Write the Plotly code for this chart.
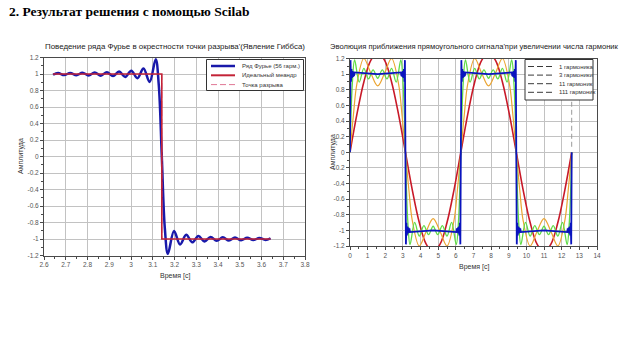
import math
import plotly.graph_objects as go

# ---------------- data ----------------
# Left panel: Fourier series (56 harmonics) near the jump at t = pi
gibbs_t = [2.6416, 2.6647, 2.6928, 2.7208, 2.7489, 2.7769, 2.8050, 2.8330, 2.8611, 2.8891,
           2.9172, 2.9452, 2.9733, 3.0013, 3.0294, 3.0574, 3.0855, 3.1135, 3.1276,
           3.1416,
           3.1556, 3.1697, 3.1977, 3.2258, 3.2538, 3.2819, 3.3099, 3.3380, 3.3660, 3.3941,
           3.4221, 3.4502, 3.4782, 3.5063, 3.5343, 3.5624, 3.5904, 3.6185, 3.6416]
gibbs_y = [0.991, 1.012, 0.987, 1.0135, 0.9855, 1.0156, 0.9831, 1.0184, 0.9797, 1.0225,
           0.9747, 1.0289, 0.9637, 1.0401, 0.9499, 1.0662, 0.9028, 1.179, 0.871,
           0.0,
           -0.871, -1.179, -0.9028, -1.0662, -0.9499, -1.0401, -0.9637, -1.0289, -0.9747, -1.0225,
           -0.9797, -1.0184, -0.9831, -1.0156, -0.9855, -1.0135, -0.987, -1.012, -0.991]
ideal_t = [2.6416, 3.1416, 3.1416, 3.6416]
ideal_y = [1, 1, -1, -1]
jump_t = [3.1416, 3.1416]
jump_y = [1, -1]

# Right panel: one positive half-period of each partial sum (0 .. pi),
# the other half-periods repeat it with alternating sign
h1_t = [0, 0.3927, 0.7854, 1.1781, 1.5708, 1.9635, 2.3562, 2.7489, 3.1416]
h1_y = [0, 0.487, 0.900, 1.176, 1.273, 1.176, 0.900, 0.487, 0]

h3_t = [0, 0.1963, 0.3927, 0.7854, 1.1781, 1.5708, 1.9635, 2.3562, 2.7489, 2.9452, 3.1416]
h3_y = [0, 0.484, 0.879, 1.200, 1.014, 0.849, 1.014, 1.200, 0.879, 0.484, 0]

h11_t = [0, 0.1309, 0.2618, 0.5236, 0.7854, 1.0472, 1.3090, 1.5708, 1.8326, 2.0944,
         2.3562, 2.6180, 2.8798, 3.0107, 3.1416]
h11_y = [0, 0.873, 1.181, 0.898, 1.074, 0.939, 1.055, 0.947, 1.055, 0.939,
         1.074, 0.898, 1.181, 0.873, 0]

h111_t = [0, 0.0281, 0.0561, 0.0842, 0.1122, 0.1403, 0.1683, 0.1964, 0.2244, 0.2525,
          1.5708, 2.8891, 2.9172, 2.9452, 2.9733, 3.0013, 3.0294, 3.0574, 3.0855, 3.1135, 3.1416]
h111_y = [0, 1.179, 0.903, 1.066, 0.950, 1.040, 0.964, 1.029, 0.975, 1.022,
          1.0, 1.022, 0.975, 1.029, 0.964, 1.040, 0.950, 1.066, 0.903, 1.179, 0]
half_periods = 4
end_mark_t = [12.566, 12.566]
end_mark_y = [0.07, 0.65]

# tick labels
left_xticks = [2.6, 2.7, 2.8, 2.9, 3.0, 3.1, 3.2, 3.3, 3.4, 3.5, 3.6, 3.7, 3.8]
left_xlabels = ["2.6", "2.7", "2.8", "2.9", "3", "3.1", "3.2", "3.3", "3.4", "3.5", "3.6", "3.7", "3.8"]
right_xticks = list(range(0, 15))
right_xlabels = [str(v) for v in right_xticks]
amp_ticks = [-1.2, -1.0, -0.8, -0.6, -0.4, -0.2, 0, 0.2, 0.4, 0.6, 0.8, 1.0, 1.2]
amp_labels = ["-1.2", "-1", "-0.8", "-0.6", "-0.4", "-0.2", "0", "0.2", "0.4", "0.6", "0.8", "1", "1.2"]

left_names = ["Ряд Фурье (56 гарм.)", "Идеальный меандр", "Точка разрыва"]
right_names = ["1 гармоника", "3 гармоники", "11 гармоник", "111 гармоник"]


def tile(ht, hy, n):
    xs, ys = [], []
    for k in range(n):
        s = 1 if k % 2 == 0 else -1
        for i, (t, y) in enumerate(zip(ht, hy)):
            if k > 0 and i == 0:
                continue
            xs.append(t + k * math.pi)
            ys.append(s * y)
    return xs, ys


W, H = 640, 360
def px(x): return x / W
def py(y): return 1 - y / H

FONT = "Liberation Sans, Arial, sans-serif"

fig = go.Figure()

# ---- left panel ----
fig.add_trace(go.Scatter(x=gibbs_t, y=gibbs_y, mode="lines", name=left_names[0],
                         line=dict(color="rgb(25,25,170)", width=2.5, shape="spline", smoothing=1),
                         xaxis="x", yaxis="y", showlegend=False))
fig.add_trace(go.Scatter(x=jump_t, y=jump_y, mode="lines", name=left_names[2],
                         line=dict(color="rgb(225,120,150)", width=1, dash="6px,3px"),
                         xaxis="x", yaxis="y", showlegend=False))
fig.add_trace(go.Scatter(x=ideal_t, y=ideal_y, mode="lines", name=left_names[1],
                         line=dict(color="rgb(195,35,55)", width=1.6),
                         xaxis="x", yaxis="y", showlegend=False))

# ---- right panel ----
right_specs = [
    (h1_t, h1_y, "rgb(200,25,40)", 1.6, "spline"),
    (h3_t, h3_y, "rgb(235,165,50)", 1.2, "spline"),
    (h11_t, h11_y, "rgb(95,220,70)", 1.3, "spline"),
    (h111_t, h111_y, "rgb(10,20,190)", 1.8, "linear"),
]
for (ht, hy, col, w, shp), nm in zip(right_specs, right_names):
    xs, ys = tile(ht, hy, half_periods)
    fig.add_trace(go.Scatter(x=xs, y=ys, mode="lines", name=nm,
                             line=dict(color=col, width=w, shape=shp, smoothing=1),
                             xaxis="x2", yaxis="y2", showlegend=False))
fig.add_trace(go.Scatter(x=end_mark_t, y=end_mark_y, mode="lines",
                         line=dict(color="#9a9a9a", width=1, dash="5px,3px"),
                         xaxis="x2", yaxis="y2", showlegend=False, hoverinfo="skip"))

axis_common = dict(showgrid=True, gridcolor="#c2c2c2", gridwidth=1, showline=True,
                   linecolor="#4a4a4a", linewidth=1, mirror=True, ticks="outside",
                   ticklen=3, tickcolor="#4a4a4a", zeroline=False, fixedrange=True,
                   automargin=False,
                   tickfont=dict(size=6.5, color="#555555", family=FONT), tickmode="array")

fig.update_layout(
    width=W, height=H, margin=dict(l=0, r=0, t=0, b=0, autoexpand=False),
    paper_bgcolor="white", plot_bgcolor="white", showlegend=False,
    xaxis=dict(axis_common, domain=[px(44), px(305)], anchor="y", range=[2.6, 3.8],
               tickvals=left_xticks, ticktext=left_xlabels,
               minor=dict(dtick=0.05, tick0=2.6, ticks="outside", ticklen=2, tickcolor="#4a4a4a", showgrid=False)),
    yaxis=dict(axis_common, domain=[py(255.5), py(57.5)], anchor="x", range=[-1.2, 1.2],
               tickvals=amp_ticks, ticktext=amp_labels,
               minor=dict(dtick=0.1, tick0=0, ticks="outside", ticklen=2, tickcolor="#4a4a4a", showgrid=False)),
    xaxis2=dict(axis_common, domain=[px(350), px(597)], anchor="y2", range=[0, 14],
                tickvals=right_xticks, ticktext=right_xlabels,
                minor=dict(dtick=0.5, tick0=0, ticks="outside", ticklen=2, tickcolor="#4a4a4a", showgrid=False)),
    yaxis2=dict(axis_common, domain=[py(246), py(58.5)], anchor="x2", range=[-1.2, 1.2],
                tickvals=amp_ticks, ticktext=amp_labels,
                minor=dict(dtick=0.1, tick0=0, ticks="outside", ticklen=2, tickcolor="#4a4a4a", showgrid=False)),
)

ann = []
def text(x, y, s, size, xanchor="center", angle=0, color="#222222", family=FONT):
    ann.append(dict(x=px(x), y=py(y), xref="paper", yref="paper", text=s, showarrow=False,
                    xanchor=xanchor, yanchor="middle", textangle=angle,
                    font=dict(size=size, color=color, family=family)))

text(7, 12, "<b>2. Результат решения с помощью Scilab</b>", 13.5, xanchor="left",
     color="#000000", family="Liberation Serif, Times New Roman, serif")
text(175, 47, "Поведение ряда Фурье в окрестности точки разрыва'(Явление Гиббса)", 7.9)
text(474, 47, "Эволюция приближения прямоугольного сигнала'при увеличении числа гармоник", 7.6)
text(175, 276, "Время [с]", 7, color="#333333")
text(474, 267, "Время [с]", 7, color="#333333")
text(21, 156, "Амплитуда", 7, angle=-90, color="#333333")
text(333, 152, "Амплитуда", 7, angle=-90, color="#333333")

shapes = []
def rect(x0, y0, x1, y1):
    shapes.append(dict(type="rect", xref="paper", yref="paper", x0=px(x0), x1=px(x1),
                       y0=py(y1), y1=py(y0), fillcolor="white", layer="above",
                       line=dict(color="#333333", width=1)))
def seg(x0, x1, y, color, width, dash="solid"):
    shapes.append(dict(type="line", xref="paper", yref="paper", x0=px(x0), x1=px(x1),
                       y0=py(y), y1=py(y), layer="above",
                       line=dict(color=color, width=width, dash=dash)))

# left legend
rect(206.5, 59.5, 303.5, 90.5)
left_leg = [("rgb(25,25,170)", 2.5, "solid"), ("rgb(195,35,55)", 2, "solid"),
            ("rgb(225,120,150)", 1, "6px,3px")]
for i, ((c, w, d), nm) in enumerate(zip(left_leg, left_names)):
    yy = 66 + i * 9.3
    seg(211, 235, yy, c, w, d)
    text(240, yy, nm, 6, xanchor="left", color="#333333")

# right legend
rect(525, 59.5, 593, 100)
for i, nm in enumerate(right_names):
    yy = 66.5 + i * 8.6
    seg(528, 553, yy, "#3a3a3a", 1, "6px,3px")
    text(557, yy, nm, 6, xanchor="left", color="#333333")

fig.update_layout(annotations=ann, shapes=shapes)
fig.write_html("out.html", config={"displayModeBar": False},
               post_script="document.body.style.margin='0';document.body.style.padding='0';")
